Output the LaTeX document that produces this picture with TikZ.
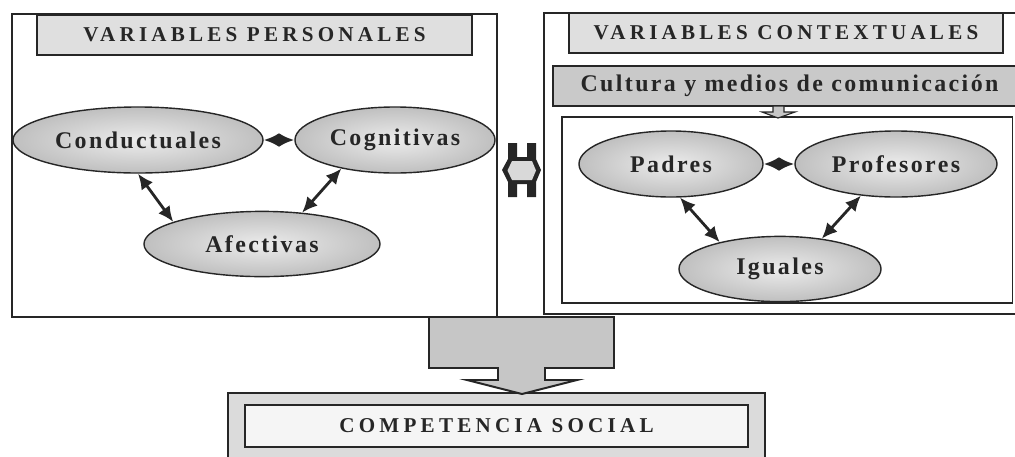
\documentclass[tikz,border=0pt]{standalone}
\usepackage{fontspec}
\setmainfont{Liberation Serif}
\usetikzlibrary{positioning}
\usetikzlibrary{shapes.geometric}
\usetikzlibrary{arrows.meta}
\newcommand{\capsfont}{\fontsize{15}{17}\selectfont\bfseries\addfontfeature{LetterSpace=20}}
\newcommand{\varfont}{\fontsize{17}{19}\selectfont\bfseries\addfontfeature{LetterSpace=10}}
\tikzset{frame/.style={draw=black!85,line width=1.4pt,inner sep=0pt}}
\tikzset{titlebox/.style={draw=black!85,line width=1.1pt,fill=gray!25,inner sep=0pt,minimum height=1cm,font=\capsfont,text=black!85}}
\tikzset{var/.style={ellipse,draw=black!85,line width=1pt,inner sep=0pt,minimum height=1.65cm,inner color=gray!15,outer color=gray!50,font=\varfont,text=black!85}}
\tikzset{lnk/.style={{Latex[length=11pt,width=10pt]}-{Latex[length=11pt,width=10pt]},line width=2pt,black!85}}
\tikzset{block/.style={draw=black!85,line width=1.1pt,fill=gray!45,line join=miter}}

\begin{document}
\begin{tikzpicture}[x=0.025cm, y=-0.025cm]
        \useasboundingbox (0,0) rectangle (1015,456);

        \node[frame, minimum width=12.125cm, minimum height=7.575cm] (P) at (254.5,165.5) {};
        \node[frame, minimum width=14cm, minimum height=7.525cm] (C) at (824,163.5) {};
        \node[titlebox, minimum width=10.875cm] (PT) at (254.5,35) {VARIABLES PERSONALES};
        \node[titlebox, minimum width=10.85cm] (CT) at (786,33) {VARIABLES CONTEXTUALES};
        \node[titlebox, fill=gray!42, minimum width=14cm] (CM) at (833,86) {};
        \node[font=\varfont, text=black!85] (CMt) at (789.5,86) {Cultura y medios de comunicación};
        \node[frame, line width=0.8pt, minimum width=11.25cm, minimum height=4.65cm] (E) at (787,210) {};

        \node[var, minimum width=6.25cm] (Cond) at (138,140) {Conductuales};
        \node[var, minimum width=5cm] (Cog) at (395,140) {Cognitivas};
        \node[var, minimum width=5.9cm, minimum height=1.63cm] (Afec) at (262,244) {Afectivas};
        \node[var, minimum width=4.6cm] (Pad) at (671,164) {Padres};
        \node[var, minimum width=5.05cm] (Prof) at (896,164) {Profesores};
        \node[var, minimum width=5.05cm, minimum height=1.63cm] (Ig) at (780,269) {Iguales};

        \draw[lnk] (Cond.east) -- (Cog.west);
        \draw[lnk] (Cond.south) -- (Afec.166);
        \draw[lnk] (Cog.208) -- (Afec.38);
        \draw[lnk] (Pad.east) -- (Prof.west);
        \draw[lnk] (Pad.285) -- (Ig.156);
        \draw[lnk] (Prof.222) -- (Ig.36);

        \fill[black!85] (508,143) -- (517,143) -- (517,157) -- (527,157) -- (527,143) -- (536,143)
            -- (536,159) -- (541,170) -- (536,182) -- (536,197) -- (527,197) -- (527,184)
            -- (517,184) -- (517,197) -- (508,197) -- (508,182) -- (502,170) -- (508,159) -- cycle;
        \fill[gray!30] (512,161) -- (532,161) -- (536,170.5) -- (532,180) -- (512,180) -- (507.5,170.5) -- cycle;

        \draw[block, line width=0.8pt] (773,106) -- (784,106) -- (784,112) -- (795,112) -- (778,118)
            -- (762,112) -- (773,112) -- cycle;

        \node[frame, fill=gray!28, minimum width=13.425cm, minimum height=2.05cm] (S) at (496.5,434) {};
        \node[titlebox, fill=gray!8, line width=1.3pt, minimum width=12.575cm, minimum height=1.05cm] (ST) at (496.5,426) {COMPETENCIA SOCIAL};

        \draw[block, line width=1.4pt] (429,317) -- (614,317) -- (614,368) -- (545,368) -- (545,380)
            -- (577,380) -- (522,394) -- (467,380) -- (498,380) -- (498,368) -- (429,368) -- cycle;
    \end{tikzpicture}
\end{document}
